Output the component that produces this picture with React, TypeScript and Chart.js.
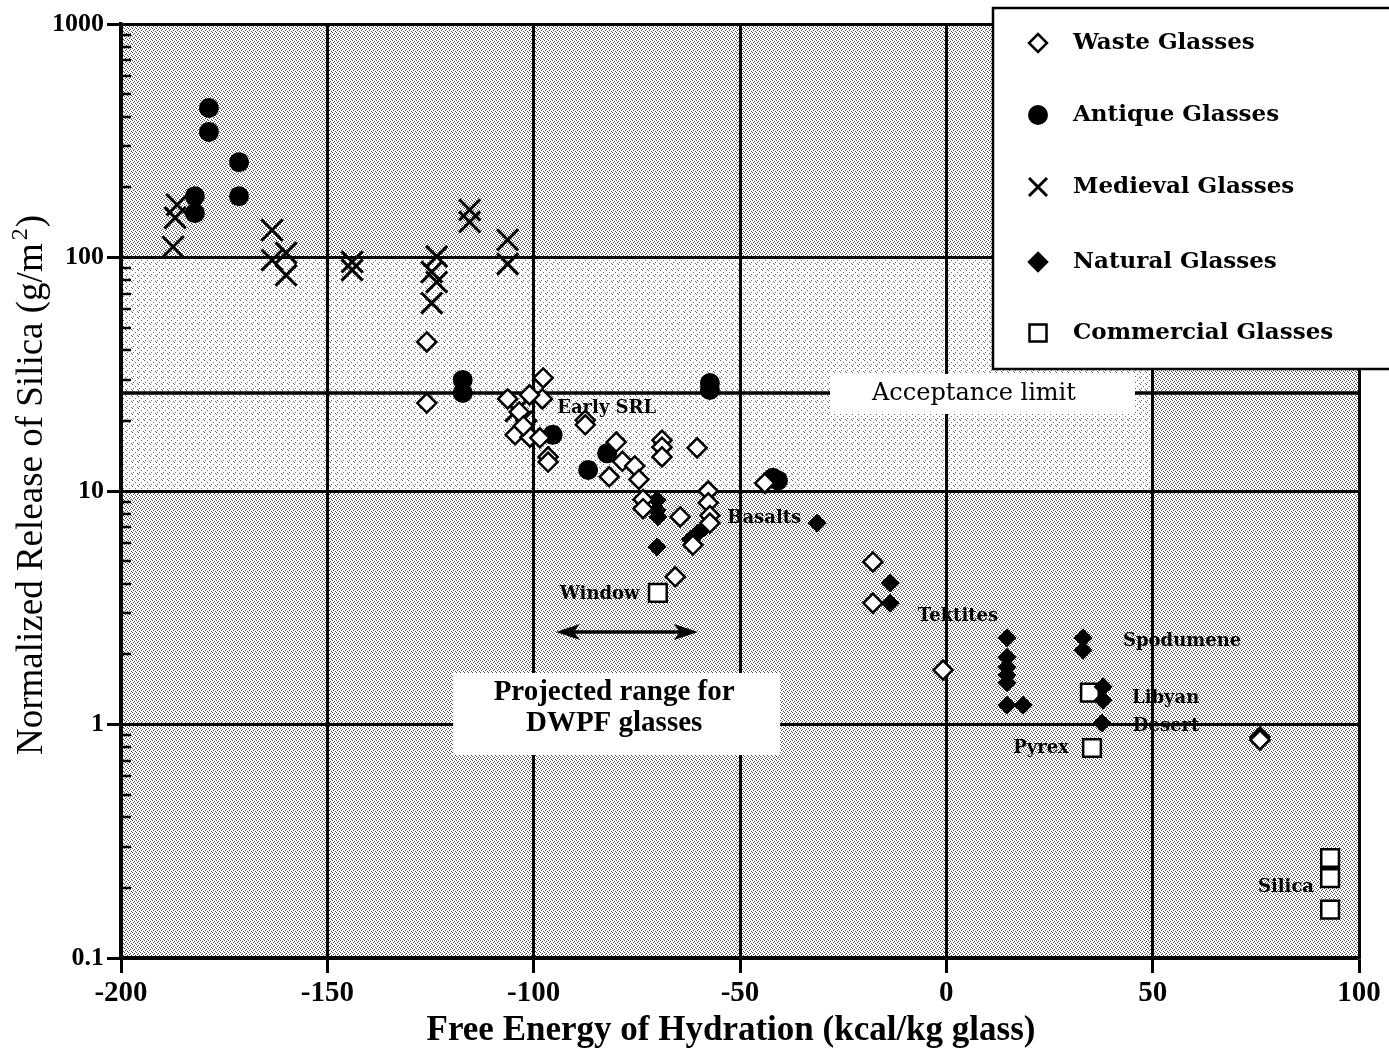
import React, { useEffect, useRef } from 'react';
import { Chart, registerables } from 'chart.js';

Chart.register(...registerables);

// ---------- data ----------
const xTickValues = [-200, -150, -100, -50, 0, 50, 100];
const xTickLabels = ['-200', '-150', '-100', '-50', '0', '50', '100'];
const yTickValues = [0.1, 1, 10, 100, 1000];
const yTickLabels = ['0.1', '1', '10', '100', '1000'];

const seriesNames = ['Waste Glasses', 'Antique Glasses', 'Medieval Glasses', 'Natural Glasses', 'Commercial Glasses'];

const wasteX = [-125.9, -125.9, -97.7, -106.3, -97.9, -101.0, -103.5, -104.5, -100.9, -98.5, -102.5, -96.5, -96.5, -87.5, -87.5,
  -80.0, -78.5, -75.5, -81.7, -74.5, -68.9, -68.9, -68.9, -60.4, -73.5, -73.5, -64.5, -57.7, -57.7, -57.3, -57.3, -61.4, -65.7,
  -44.0, -17.8, -17.8, -0.8, 76.0, 76.0];
const wasteY = [43.5, 23.8, 30.5, 24.8, 24.8, 25.8, 21.8, 17.4, 17.0, 16.9, 19.0, 14.0, 13.3, 20.1, 19.2,
  16.2, 13.4, 12.8, 11.5, 11.2, 16.5, 15.4, 14.0, 15.3, 9.2, 8.4, 7.74, 10.0, 8.9, 7.85, 7.29, 5.87, 4.29,
  10.8, 4.97, 3.31, 1.71, 0.883, 0.859];

const antiqueX = [-178.7, -178.7, -171.4, -171.4, -182.1, -182.1, -117.2, -117.2, -57.3, -57.3, -95.4, -86.8, -82.2, -42.0, -40.8];
const antiqueY = [437, 345, 256, 183, 183, 155, 29.9, 26.3, 29.0, 27.1, 17.4, 12.3, 14.5, 11.4, 11.1];

const medievalX = [-186.4, -186.9, -187.4, -163.4, -163.4, -160.0, -160.0, -144.0, -144.0, -123.5, -124.7, -123.5, -124.7,
  -115.5, -115.5, -106.3, -106.3, -104.3, -103.0, -101.8];
const medievalY = [168, 148, 111, 131, 97.5, 104.5, 84, 95.7, 88.4, 101, 86.7, 78.5, 63.8,
  160, 142, 119, 93.8, 22.0, 19.8, 18.2];

const naturalX = [-70.1, -70.1, -69.9, -70.1, -62.0, -60.2, -58.5, -31.3, -13.6, -13.6, 14.7, 14.7, 14.7, 14.7, 14.7, 14.7, 18.6,
  33.1, 33.1, 38.0, 38.0, 37.7];
const naturalY = [9.14, 8.29, 7.74, 5.76, 6.2, 6.6, 7.0, 7.29, 4.04, 3.31, 2.35, 1.94, 1.76, 1.63, 1.51, 1.21, 1.21,
  2.35, 2.08, 1.45, 1.27, 1.015];

const commercialX = [-69.9, 34.8, 35.3, 93.0, 93.0, 93.0];
const commercialY = [3.66, 1.37, 0.793, 0.268, 0.22, 0.161];

const acceptanceX = [-200, 100];
const acceptanceY = [26.3, 26.3];
const acceptanceText = 'Acceptance limit';
const acceptanceTextX = 6.7;

const noteLabels = ['Early SRL', 'Basalts', 'Window', 'Tektites', 'Spodumene', 'Libyan', 'Desert', 'Pyrex', 'Silica'];
const noteX = [-94.3, -53.1, -93.7, -6.9, 42.8, 45.0, 45.2, 16.2, 75.5];
const noteY = [22.7, 7.66, 3.62, 2.92, 2.28, 1.29, 0.986, 0.793, 0.201];

const arrowX = [-94.6, -60.2];
const arrowY = 2.49;
const rangeText = ['Projected range for', 'DWPF glasses'];
const rangeTextX = -80.5;

const xTitle = 'Free Energy of Hydration (kcal/kg glass)';
const yTitleMain = 'Normalized Release of Silica (g/m';
const yTitleSup = '2';
const yTitleEnd = ')';

const zip = (xs: number[], ys: number[]) => xs.map((x, i) => ({ x, y: ys[i] }));

function makePattern(ctx: CanvasRenderingContext2D, size: number, dots: number[][], color: string) {
  const c = document.createElement('canvas');
  c.width = size;
  c.height = size;
  const g = c.getContext('2d')!;
  g.fillStyle = '#fff';
  g.fillRect(0, 0, size, size);
  g.fillStyle = color;
  dots.forEach(([x, y]) => g.fillRect(x, y, 1, 1));
  return ctx.createPattern(c, 'repeat');
}

function drawMarker(ctx: CanvasRenderingContext2D, kind: number, x: number, y: number) {
  ctx.save();
  ctx.strokeStyle = '#000';
  ctx.fillStyle = '#000';
  ctx.lineWidth = 2.5;
  if (kind === 0 || kind === 3) {
    const r = 9;
    ctx.beginPath();
    ctx.moveTo(x, y - r);
    ctx.lineTo(x + r, y);
    ctx.lineTo(x, y + r);
    ctx.lineTo(x - r, y);
    ctx.closePath();
    ctx.fillStyle = kind === 0 ? '#fff' : '#000';
    ctx.fill();
    ctx.stroke();
  } else if (kind === 1) {
    ctx.beginPath();
    ctx.arc(x, y, 10, 0, Math.PI * 2);
    ctx.fill();
  } else if (kind === 2) {
    ctx.lineWidth = 3;
    ctx.beginPath();
    ctx.moveTo(x - 9, y - 9);
    ctx.lineTo(x + 9, y + 9);
    ctx.moveTo(x + 9, y - 9);
    ctx.lineTo(x - 9, y + 9);
    ctx.stroke();
  } else {
    ctx.fillStyle = '#fff';
    ctx.fillRect(x - 8.5, y - 8.5, 17, 17);
    ctx.strokeRect(x - 8.5, y - 8.5, 17, 17);
  }
  ctx.restore();
}

export default function App() {
  const ref = useRef<HTMLCanvasElement>(null);

  useEffect(() => {
    const canvas = ref.current!;
    const c2d = canvas.getContext('2d')!;
    const darkPattern = makePattern(c2d, 4, [[0, 0], [2, 1], [1, 2], [3, 3]], '#4a4a4a');
    const lightPattern = makePattern(c2d, 6, [[0, 0], [3, 2], [1, 4], [5, 5]], '#6a6a6a');

    const customPlugin = {
      id: 'customDraw',
      beforeDraw(chart: any) {
        const { ctx, chartArea: a, scales } = chart;
        ctx.save();
        ctx.fillStyle = '#fff';
        ctx.fillRect(0, 0, chart.width, chart.height);
        ctx.fillStyle = darkPattern;
        ctx.fillRect(a.left, a.top, a.right - a.left, a.bottom - a.top);
        const lx0 = scales.x.getPixelForValue(-200);
        const lx1 = scales.x.getPixelForValue(50);
        const ly0 = scales.y.getPixelForValue(100);
        const ly1 = scales.y.getPixelForValue(10);
        ctx.fillStyle = lightPattern;
        ctx.fillRect(lx0, ly0, lx1 - lx0, ly1 - ly0);
        ctx.restore();
      },
      beforeDatasetsDraw(chart: any) {
        const { ctx, chartArea: a, scales } = chart;
        ctx.save();
        ctx.strokeStyle = '#000';
        ctx.lineWidth = 2.5;
        [0.1, 1, 10, 100].forEach((d) => {
          for (let m = 2; m <= 9; m++) {
            const py = Math.round(scales.y.getPixelForValue(d * m));
            ctx.beginPath();
            ctx.moveTo(a.left, py);
            ctx.lineTo(a.left + 10, py);
            ctx.stroke();
          }
        });
        ctx.restore();
      },
      afterDatasetsDraw(chart: any) {
        const { ctx, scales } = chart;
        const sx = scales.x, sy = scales.y;
        ctx.save();

        // acceptance limit label box
        const acx = sx.getPixelForValue(acceptanceTextX);
        const acy = sy.getPixelForValue(acceptanceY[0]);
        ctx.fillStyle = '#fff';
        ctx.fillRect(acx - 144, acy - 19, 305, 40);
        ctx.fillStyle = '#000';
        ctx.font = '24px "DejaVu Serif"';
        ctx.textAlign = 'center';
        ctx.textBaseline = 'middle';
        ctx.fillText(acceptanceText, acx, acy + 1);

        // projected range box
        const rcx = sx.getPixelForValue(rangeTextX);
        const ay = sy.getPixelForValue(arrowY);
        const rb1 = ay + 68;
        ctx.fillStyle = '#fff';
        ctx.fillRect(rcx - 161, rb1 - 27, 327, 82);
        ctx.fillStyle = '#000';
        ctx.font = 'bold 29px "Liberation Serif"';
        ctx.textAlign = 'center';
        ctx.textBaseline = 'alphabetic';
        ctx.fillText(rangeText[0], rcx, rb1);
        ctx.fillText(rangeText[1], rcx, rb1 + 31);

        // double arrow
        const ax0 = sx.getPixelForValue(arrowX[0]);
        const ax1 = sx.getPixelForValue(arrowX[1]);
        ctx.strokeStyle = '#000';
        ctx.lineWidth = 3.5;
        ctx.beginPath();
        ctx.moveTo(ax0 + 10, ay);
        ctx.lineTo(ax1 - 10, ay);
        ctx.stroke();
        ctx.beginPath();
        ctx.moveTo(ax0, ay);
        ctx.lineTo(ax0 + 24, ay - 8);
        ctx.lineTo(ax0 + 18, ay);
        ctx.lineTo(ax0 + 24, ay + 8);
        ctx.closePath();
        ctx.fill();
        ctx.beginPath();
        ctx.moveTo(ax1, ay);
        ctx.lineTo(ax1 - 24, ay - 8);
        ctx.lineTo(ax1 - 18, ay);
        ctx.lineTo(ax1 - 24, ay + 8);
        ctx.closePath();
        ctx.fill();

        // notes
        ctx.font = 'bold 18px "DejaVu Serif"';
        ctx.textAlign = 'left';
        ctx.textBaseline = 'middle';
        noteLabels.forEach((t, i) => {
          ctx.fillText(t, sx.getPixelForValue(noteX[i]), sy.getPixelForValue(noteY[i]));
        });
        ctx.restore();
      },
      afterDraw(chart: any) {
        const { ctx } = chart;
        ctx.save();
        // legend
        ctx.fillStyle = '#fff';
        ctx.fillRect(993, 8, 420, 361);
        ctx.strokeStyle = '#000';
        ctx.lineWidth = 2.5;
        ctx.strokeRect(993, 8, 420, 361);
        const rows = [43, 115, 187, 262, 333];
        ctx.font = 'bold 23px "DejaVu Serif"';
        ctx.textAlign = 'left';
        ctx.textBaseline = 'middle';
        seriesNames.forEach((n, i) => {
          drawMarker(ctx, i, 1038, rows[i]);
          ctx.fillStyle = '#000';
          ctx.fillText(n, 1073, rows[i]);
        });

        // x title
        ctx.fillStyle = '#000';
        ctx.font = 'bold 35px "Liberation Serif"';
        ctx.textAlign = 'center';
        ctx.textBaseline = 'alphabetic';
        ctx.fillText(xTitle, 731, 1040);

        // y title
        ctx.translate(42, 485);
        ctx.rotate(-Math.PI / 2);
        const mainFont = '37px "Liberation Serif"';
        const supFont = '24px "Liberation Serif"';
        ctx.font = mainFont;
        const w1 = ctx.measureText(yTitleMain).width;
        const w3 = ctx.measureText(yTitleEnd).width;
        ctx.font = supFont;
        const w2 = ctx.measureText(yTitleSup).width + 4;
        const total = w1 + w2 + w3;
        let px = -total / 2;
        ctx.textAlign = 'left';
        ctx.font = mainFont;
        ctx.fillText(yTitleMain, px, 0);
        px += w1;
        ctx.font = supFont;
        ctx.fillText(yTitleSup, px + 3, -15);
        px += w2;
        ctx.font = mainFont;
        ctx.fillText(yTitleEnd, px, 0);
        ctx.restore();
      },
    };

    const chart = new Chart(canvas, {
      type: 'scatter',
      data: {
        datasets: [
          { label: seriesNames[0], data: zip(wasteX, wasteY), pointStyle: 'rectRot', pointRadius: 9.5, backgroundColor: '#fff', borderColor: '#000', borderWidth: 2.5 },
          { label: seriesNames[3], data: zip(naturalX, naturalY), pointStyle: 'rectRot', pointRadius: 9, backgroundColor: '#000', borderColor: '#000', borderWidth: 1 },
          { label: seriesNames[4], data: zip(commercialX, commercialY), pointStyle: 'rect', pointRadius: 12.5, backgroundColor: '#fff', borderColor: '#000', borderWidth: 2.5 },
          { label: seriesNames[1], data: zip(antiqueX, antiqueY), pointStyle: 'circle', pointRadius: 10, backgroundColor: '#000', borderColor: '#000', borderWidth: 0 },
          { label: seriesNames[2], data: zip(medievalX, medievalY), pointStyle: 'crossRot', pointRadius: 15, backgroundColor: '#000', borderColor: '#000', borderWidth: 3 },
          { label: 'Acceptance limit', data: zip(acceptanceX, acceptanceY), showLine: true, pointRadius: 0, borderColor: '#000', borderWidth: 3.5 },
        ],
      } as any,
      options: {
        responsive: false,
        animation: false,
        devicePixelRatio: 1,
        events: [],
        layout: { padding: { top: 24, right: 30, left: 0, bottom: 0 } },
        plugins: { legend: { display: false }, tooltip: { enabled: false } },
        scales: {
          x: {
            type: 'linear',
            min: -200,
            max: 100,
            afterBuildTicks: (s: any) => { s.ticks = xTickValues.map((v) => ({ value: v })); },
            afterFit: (s: any) => { s.height = 91; },
            ticks: {
              callback: (_v: any, i: number) => xTickLabels[i],
              font: { family: '"Liberation Serif"', weight: 'bold', size: 29 },
              color: '#000',
              padding: 3,
              maxRotation: 0,
              autoSkip: false,
            },
            grid: { color: '#000', lineWidth: 3, tickLength: 15 },
            border: { display: true, color: '#000', width: 3.5 },
          },
          y: {
            type: 'logarithmic',
            min: 0.1,
            max: 1000,
            afterBuildTicks: (s: any) => { s.ticks = yTickValues.map((v) => ({ value: v })); },
            afterFit: (s: any) => { s.width = 121; },
            ticks: {
              callback: (_v: any, i: number) => yTickLabels[i],
              font: { family: '"Liberation Serif"', weight: 'bold', size: 26 },
              color: '#000',
              padding: 3,
              autoSkip: false,
            },
            grid: { color: '#000', lineWidth: 3, tickLength: 14 },
            border: { display: true, color: '#000', width: 3.5 },
          },
        },
      } as any,
      plugins: [customPlugin],
    });
    return () => chart.destroy();
  }, []);

  return (
    <div style={{ position: 'absolute', left: 0, top: 0, width: 1389, height: 1049, background: '#fff' }}>
      <canvas ref={ref} width={1389} height={1049} style={{ display: 'block', width: 1389, height: 1049 }} />
    </div>
  );
}
